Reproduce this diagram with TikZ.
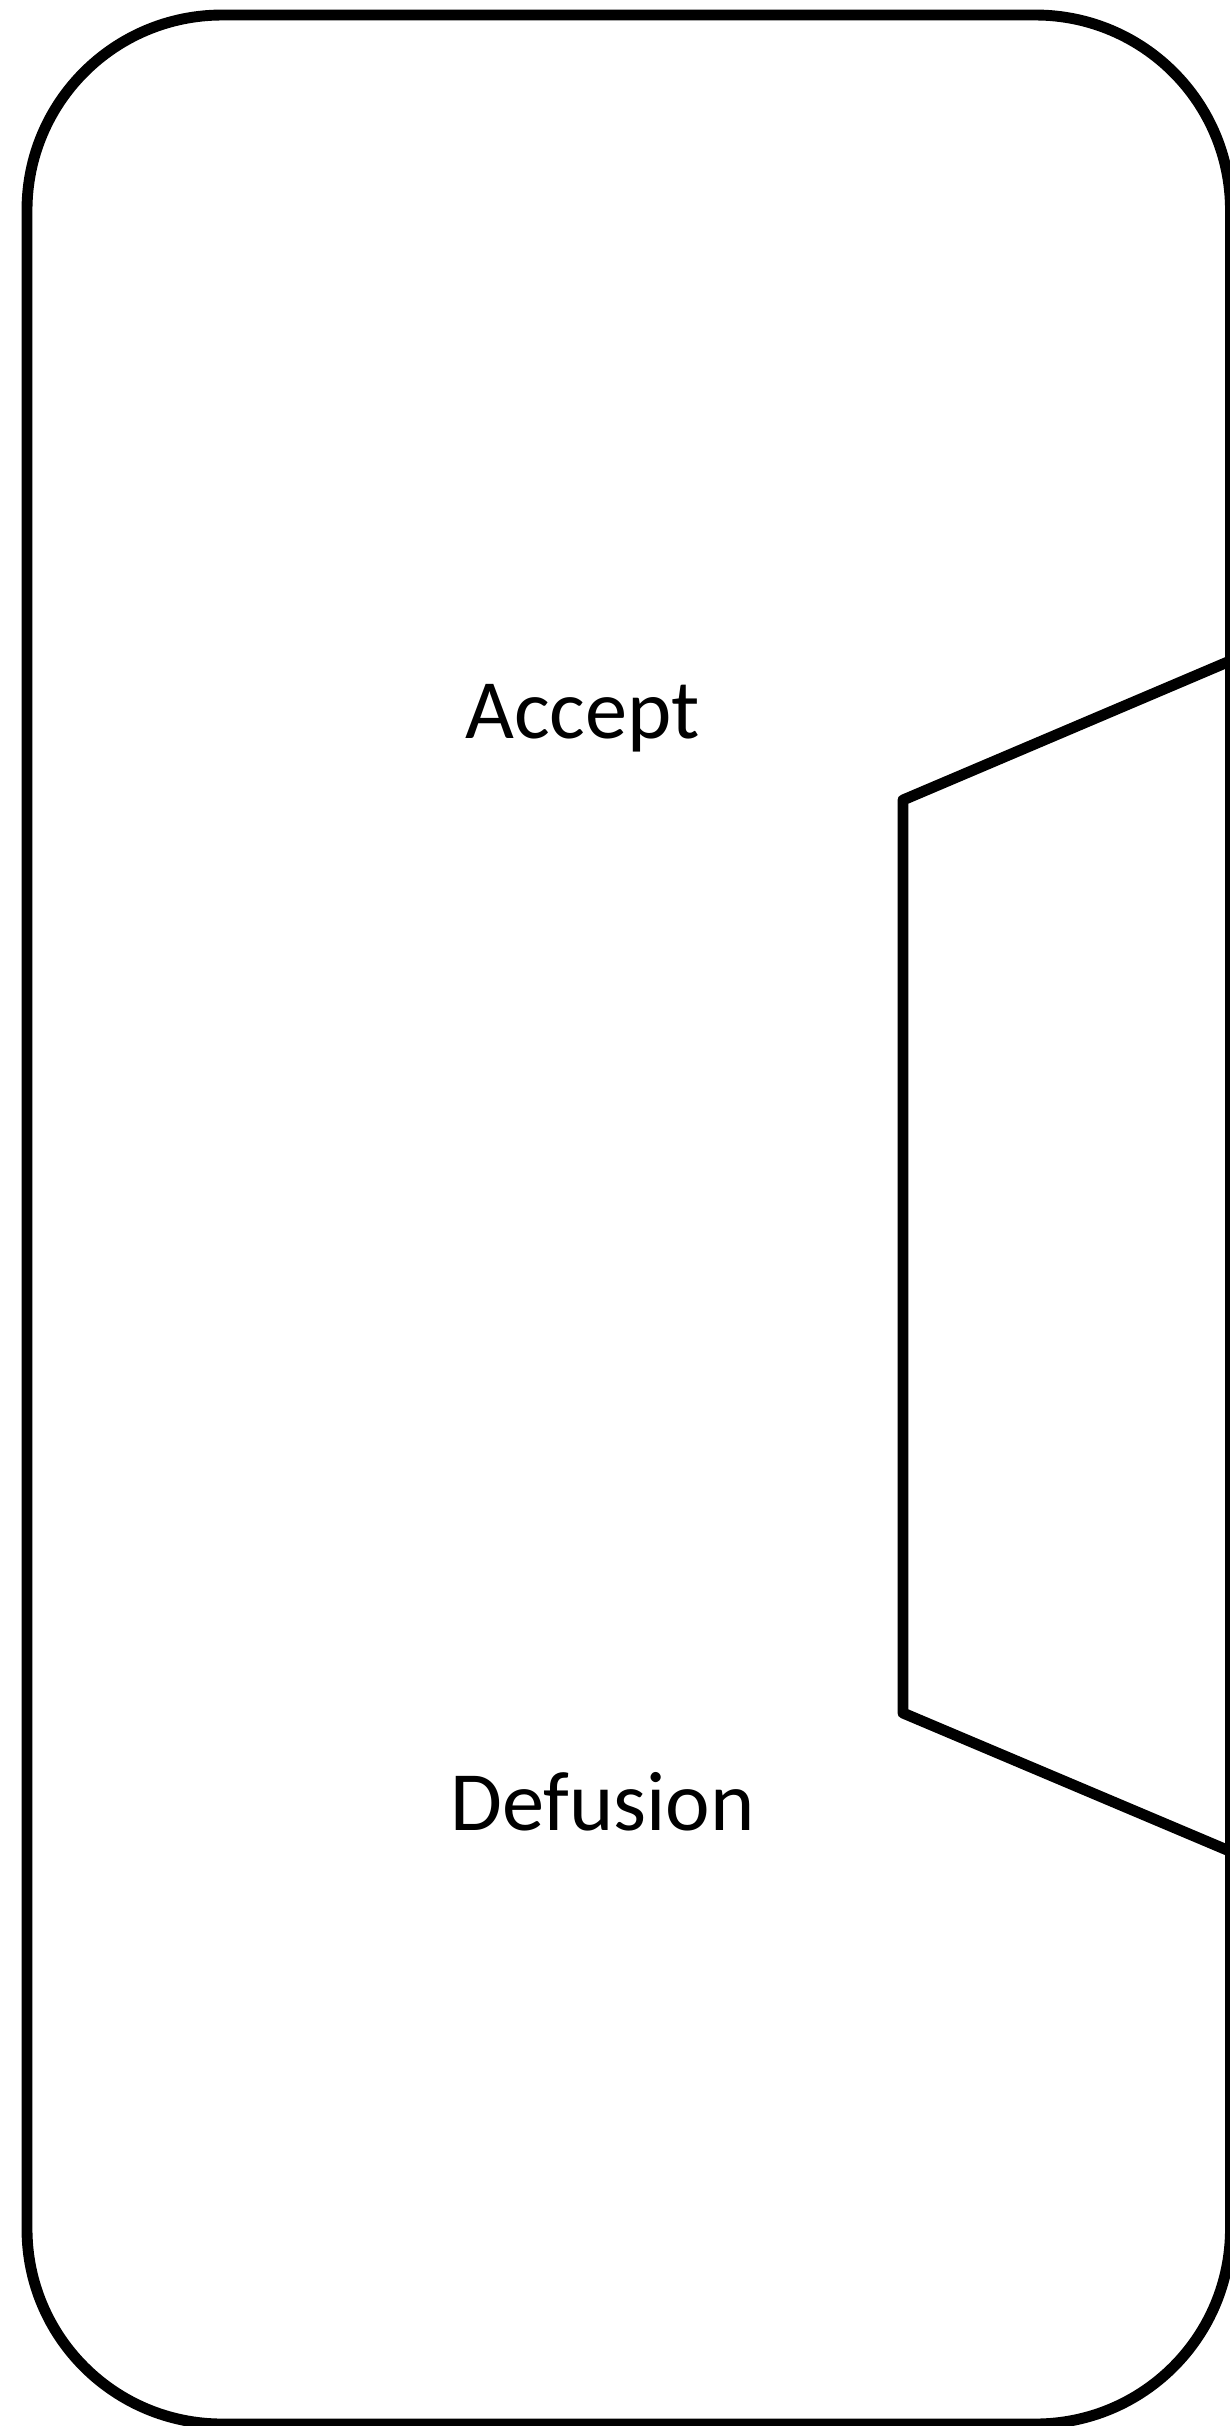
\documentclass[tikz,border=0pt]{standalone}
\usepackage{fontspec}
\setmainfont{Carlito}
\begin{document}
\begin{tikzpicture}[x=0.01cm,y=-0.01cm,
  outline/.style={draw=black,line width=3.1pt,line join=round},
  wordtext/.style={font=\fontsize{24}{28}\selectfont,inner sep=0pt,anchor=base}]
\useasboundingbox (0,0) rectangle (1230,2426);
\clip (0,0) rectangle (1230,2426);
% outer rounded frame
\draw[outline,rounded corners=1.95cm] (27,15) rectangle (1230.5,2424);
% inner bracket shape opening to the right
\coordinate (tr) at (1330,618.5);
\coordinate (tl) at (903,800);
\coordinate (bl) at (903,1713);
\coordinate (br) at (1330,1893.5);
\draw[outline] (tr) -- (tl) -- (bl) -- (br);
% labels
\node[wordtext] (accept) at (582.5,738) {Accept};
\node[wordtext] (defusion) at (602.5,1830) {Defusion};
\end{tikzpicture}
\end{document}
